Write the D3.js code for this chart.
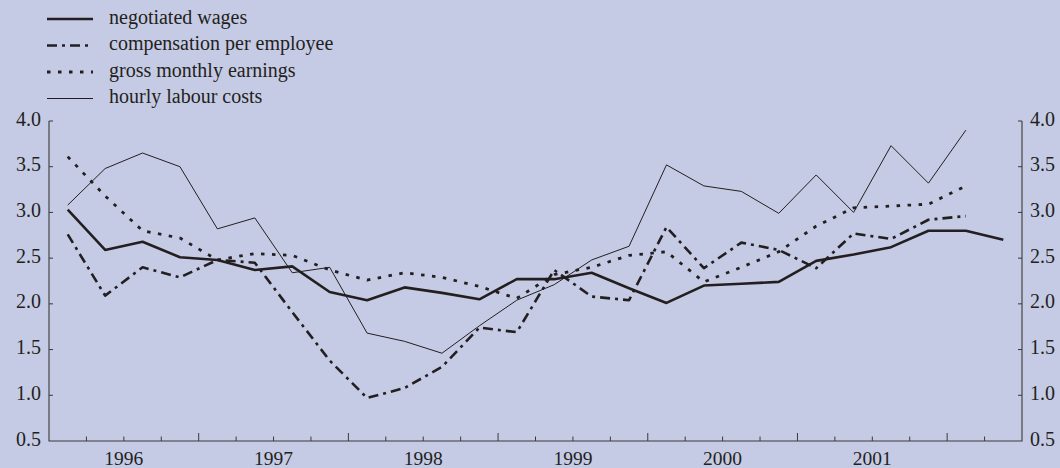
<!DOCTYPE html>
<html>
<head>
<meta charset="utf-8">
<script src="https://cdn.jsdelivr.net/npm/d3@7"></script>
<style>
  body { margin: 0; background: #c6cbe5; }
  svg { display: block; }
</style>
</head>
<body>
<div id="chart"></div>
<script>
// quarterly data, 1996 Q1 to 2002 Q2
const quarters = ["1996Q1","1996Q2","1996Q3","1996Q4","1997Q1","1997Q2","1997Q3","1997Q4",
  "1998Q1","1998Q2","1998Q3","1998Q4","1999Q1","1999Q2","1999Q3","1999Q4",
  "2000Q1","2000Q2","2000Q3","2000Q4","2001Q1","2001Q2","2001Q3","2001Q4",
  "2002Q1","2002Q2"];
const negotiatedWages = [3.03,2.59,2.68,2.51,2.48,2.37,2.41,2.13,2.04,2.18,2.12,2.05,2.27,2.27,2.34,2.17,2.01,2.20,2.22,2.24,2.47,2.54,2.62,2.80,2.80,2.70];
const compensationPerEmployee = [2.76,2.09,2.40,2.29,2.48,2.45,1.91,1.38,0.97,1.08,1.31,1.74,1.69,2.37,2.08,2.04,2.84,2.39,2.67,2.59,2.39,2.77,2.71,2.92,2.96,null];
const grossMonthlyEarnings = [3.61,3.18,2.80,2.72,2.48,2.55,2.53,2.37,2.26,2.34,2.29,2.19,2.06,2.32,2.40,2.53,2.57,2.24,2.40,2.57,2.85,3.05,3.07,3.09,3.29,null];
const hourlyLabourCosts = [3.08,3.48,3.65,3.50,2.82,2.94,2.34,2.40,1.68,1.59,1.46,1.76,2.04,2.21,2.48,2.63,3.52,3.29,3.23,2.99,3.41,3.00,3.73,3.32,3.90,null];
const years = ["1996","1997","1998","1999","2000","2001"];
const yTicks = [0.5,1.0,1.5,2.0,2.5,3.0,3.5,4.0];

const ink = "#231f20";
const font = "'Liberation Serif', 'Times New Roman', serif";

const series = [
  {name: "negotiated wages", values: negotiatedWages, width: 2.6, dash: null},
  {name: "compensation per employee", values: compensationPerEmployee, width: 2.6, dash: "10,5,3,5"},
  {name: "gross monthly earnings", values: grossMonthlyEarnings, width: 2.8, dash: "3.5,7.5"},
  {name: "hourly labour costs", values: hourlyLabourCosts, width: 1, dash: null}
];

const W = 1060, H = 468;
const margin = {top: 121, right: 38, bottom: 27, left: 49};

const svg = d3.select("#chart")
  .append("svg")
    .attr("width", W)
    .attr("height", H);

svg.append("rect")
  .attr("width", W).attr("height", H)
  .attr("fill", "#c6cbe5");

// x: quarter index, points sit in the middle of each quarter
const x = d3.scaleLinear()
  .domain([0, quarters.length])
  .range([margin.left, W - margin.right]);

const y = d3.scaleLinear()
  .domain([0.5, 4.0])
  .range([H - margin.bottom, margin.top]);

const g = svg.append("g").attr("font-family", font).attr("fill", ink);

// axes frame
const x0 = x(0), x1 = x(quarters.length), yb = y(0.5), yt = y(4.0);
g.append("path")
  .attr("d", `M${x0},${yt}V${yb}H${x1}V${yt}`)
  .attr("fill", "none")
  .attr("stroke", "#3a3a3a")
  .attr("stroke-width", 1.1);

// x ticks (pointing up): long at year starts, short at quarters
const qTicks = d3.range(1, quarters.length);
g.selectAll(".xtick")
  .data(qTicks)
  .join("line")
    .attr("x1", d => x(d)).attr("x2", d => x(d))
    .attr("y1", yb)
    .attr("y2", d => d % 4 === 0 ? yb - 8 : yb - 4.5)
    .attr("stroke", "#3a3a3a")
    .attr("stroke-width", 1);

g.selectAll(".xlabel")
  .data(years)
  .join("text")
    .attr("x", (d, i) => x(i * 4 + 2))
    .attr("y", yb + 24)
    .attr("text-anchor", "middle")
    .attr("font-size", 19.5)
    .text(d => d);

// y ticks both sides, pointing inwards
g.selectAll(".ytickL")
  .data(yTicks.slice(1))
  .join("line")
    .attr("x1", x0).attr("x2", x0 + 4)
    .attr("y1", d => y(d)).attr("y2", d => y(d))
    .attr("stroke", "#3a3a3a");
g.selectAll(".ytickR")
  .data(yTicks.slice(1))
  .join("line")
    .attr("x1", x1).attr("x2", x1 - 4)
    .attr("y1", d => y(d)).attr("y2", d => y(d))
    .attr("stroke", "#3a3a3a");

g.selectAll(".ylabL")
  .data(yTicks)
  .join("text")
    .attr("x", x0 - 8)
    .attr("y", d => y(d))
    .attr("text-anchor", "end")
    .attr("dominant-baseline", "middle")
    .attr("font-size", 20)
    .text(d => d.toFixed(1));
g.selectAll(".ylabR")
  .data(yTicks)
  .join("text")
    .attr("x", x1 + 8)
    .attr("y", d => y(d))
    .attr("text-anchor", "start")
    .attr("dominant-baseline", "middle")
    .attr("font-size", 20)
    .text(d => d.toFixed(1));

// lines
const line = d3.line()
  .defined(d => d != null)
  .x((d, i) => x(i + 0.5))
  .y(d => y(d));

g.selectAll(".series")
  .data(series)
  .join("path")
    .attr("d", d => line(d.values))
    .attr("fill", "none")
    .attr("stroke", ink)
    .attr("stroke-width", d => d.width)
    .attr("stroke-dasharray", d => d.dash)
    .attr("stroke-linejoin", "round");

// legend
const legend = g.append("g");
legend.selectAll("line")
  .data(series)
  .join("line")
    .attr("x1", 47).attr("x2", 93)
    .attr("y1", (d, i) => 19 + i * 26.5)
    .attr("y2", (d, i) => 19 + i * 26.5)
    .attr("stroke", ink)
    .attr("stroke-width", d => d.width)
    .attr("stroke-dasharray", d => d.dash);
legend.selectAll("text")
  .data(series)
  .join("text")
    .attr("x", 109)
    .attr("y", (d, i) => 19 + i * 26.5)
    .attr("dominant-baseline", "middle")
    .attr("font-size", 20)
    .text(d => d.name);
</script>
</body>
</html>
